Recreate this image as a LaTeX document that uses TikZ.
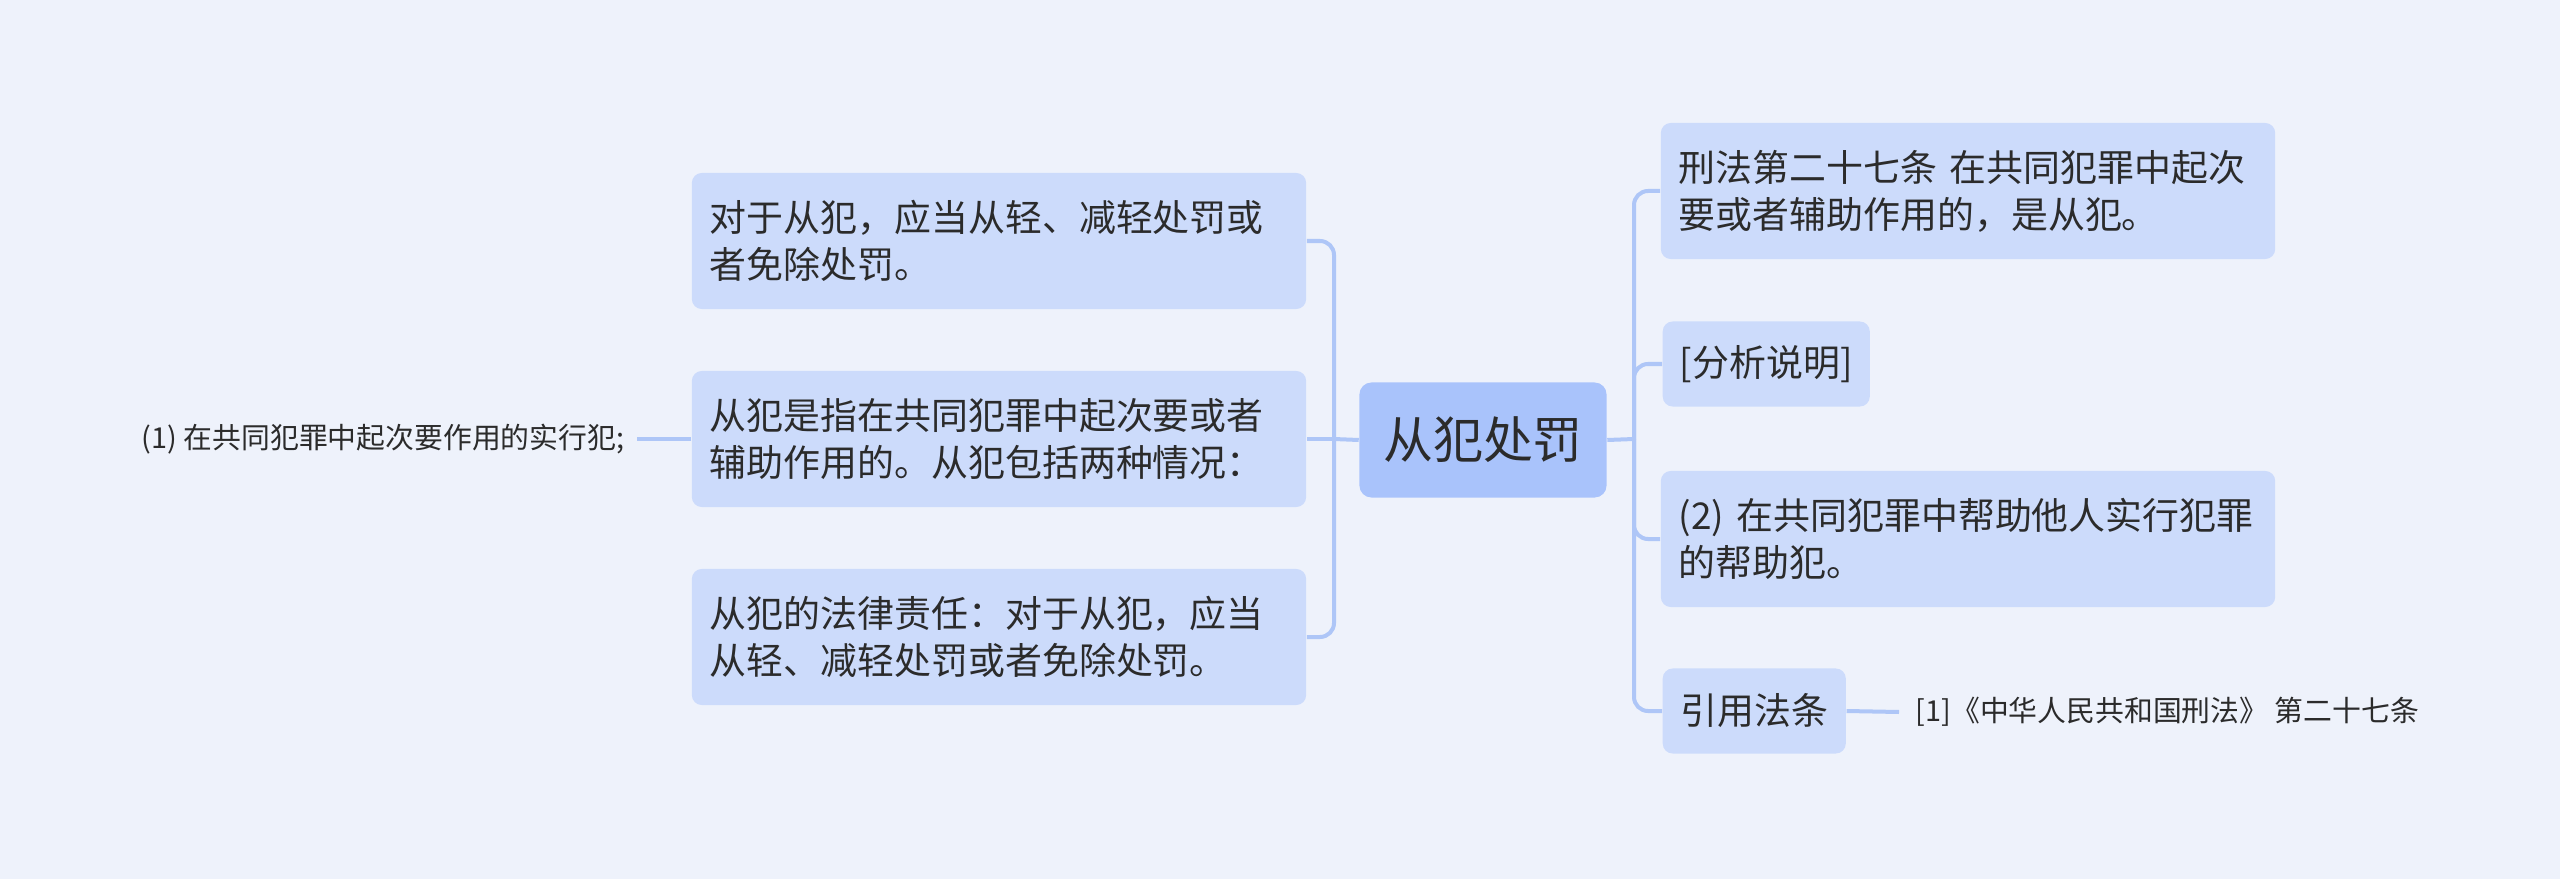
\documentclass[tikz,border=0pt]{standalone}
\usepackage{fontspec}
\setmainfont{Noto Sans CJK SC}
\definecolor{bgc}{HTML}{EEF2FB}
\definecolor{nodec}{HTML}{CCDBFB}
\definecolor{rootc}{HTML}{A9C3FB}
\definecolor{linec}{HTML}{AEC6F7}
\definecolor{txtc}{HTML}{2B2B2B}
\begin{document}
\begin{tikzpicture}[x=0.01cm,y=-0.01cm,
  box/.style={fill=nodec, rounded corners=0.1cm, inner sep=0pt, text=txtc,
    font=\fontsize{10.5pt}{13.4pt}\selectfont, align=left},
  bigbox/.style={box, minimum width=6.14cm, minimum height=1.36cm, text width=5.78cm},
  rootbox/.style={fill=rootc, rounded corners=0.12cm, inner sep=0pt, text=txtc,
    minimum width=2.47cm, minimum height=1.15cm, font=\fontsize{14.2pt}{17pt}\selectfont},
  leaf/.style={text=txtc, font=\fontsize{8.2pt}{10pt}\selectfont},
  conn/.style={draw=linec, line width=0.04cm},
  elbow/.style={conn, rounded corners=0.14cm}]
\fill[bgc] (0,0) rectangle (2560,879);
\node[rootbox] (root) at (1483,440) {从犯处罚};
% left
\node[bigbox] (a) at (999,241) {对于从犯，应当从轻、减轻处罚或\\者免除处罚。};
\node[bigbox] (b) at (999,439) {从犯是指在共同犯罪中起次要或者\\辅助作用的。从犯包括两种情况：};
\node[bigbox] (c) at (999,637) {从犯的法律责任：对于从犯，应当\\从轻、减轻处罚或者免除处罚。};
\node[leaf, anchor=east, inner sep=0.12cm] (l1) at (637,439) {(1) 在共同犯罪中起次要作用的实行犯;};
% right
\node[bigbox] (r1) at (1968,191) {刑法第二十七条 在共同犯罪中起次\\要或者辅助作用的，是从犯。};
\node[box, minimum width=2.07cm, minimum height=0.85cm, anchor=west] (r2) at (1662,364) {[分析说明]};
\node[bigbox] (r3) at (1968,539) {(2) 在共同犯罪中帮助他人实行犯罪\\的帮助犯。};
\node[box, minimum width=1.83cm, minimum height=0.85cm, anchor=west] (r4) at (1662,711) {引用法条};
\node[leaf, anchor=west, inner sep=0.16cm] (r5) at (1899,712) {[1]《中华人民共和国刑法》 第二十七条};
% connectors
\coordinate (jl) at (1334,439);
\coordinate (jr) at (1634,439);
\draw[conn] (root.west) -- (jl);
\draw[elbow] (jl) |- (a.east);
\draw[conn] (jl) -- (b.east);
\draw[elbow] (jl) |- (c.east);
\draw[conn] (b.west) -- (l1.east);
\draw[conn] (root.east) -- (jr);
\draw[elbow] (jr) |- (r1.west);
\draw[elbow] (jr) |- (r2.west);
\draw[elbow] (jr) |- (r3.west);
\draw[elbow] (jr) |- (r4.west);
\draw[conn] (r4.east) -- (r5.west);
\end{tikzpicture}
\end{document}
